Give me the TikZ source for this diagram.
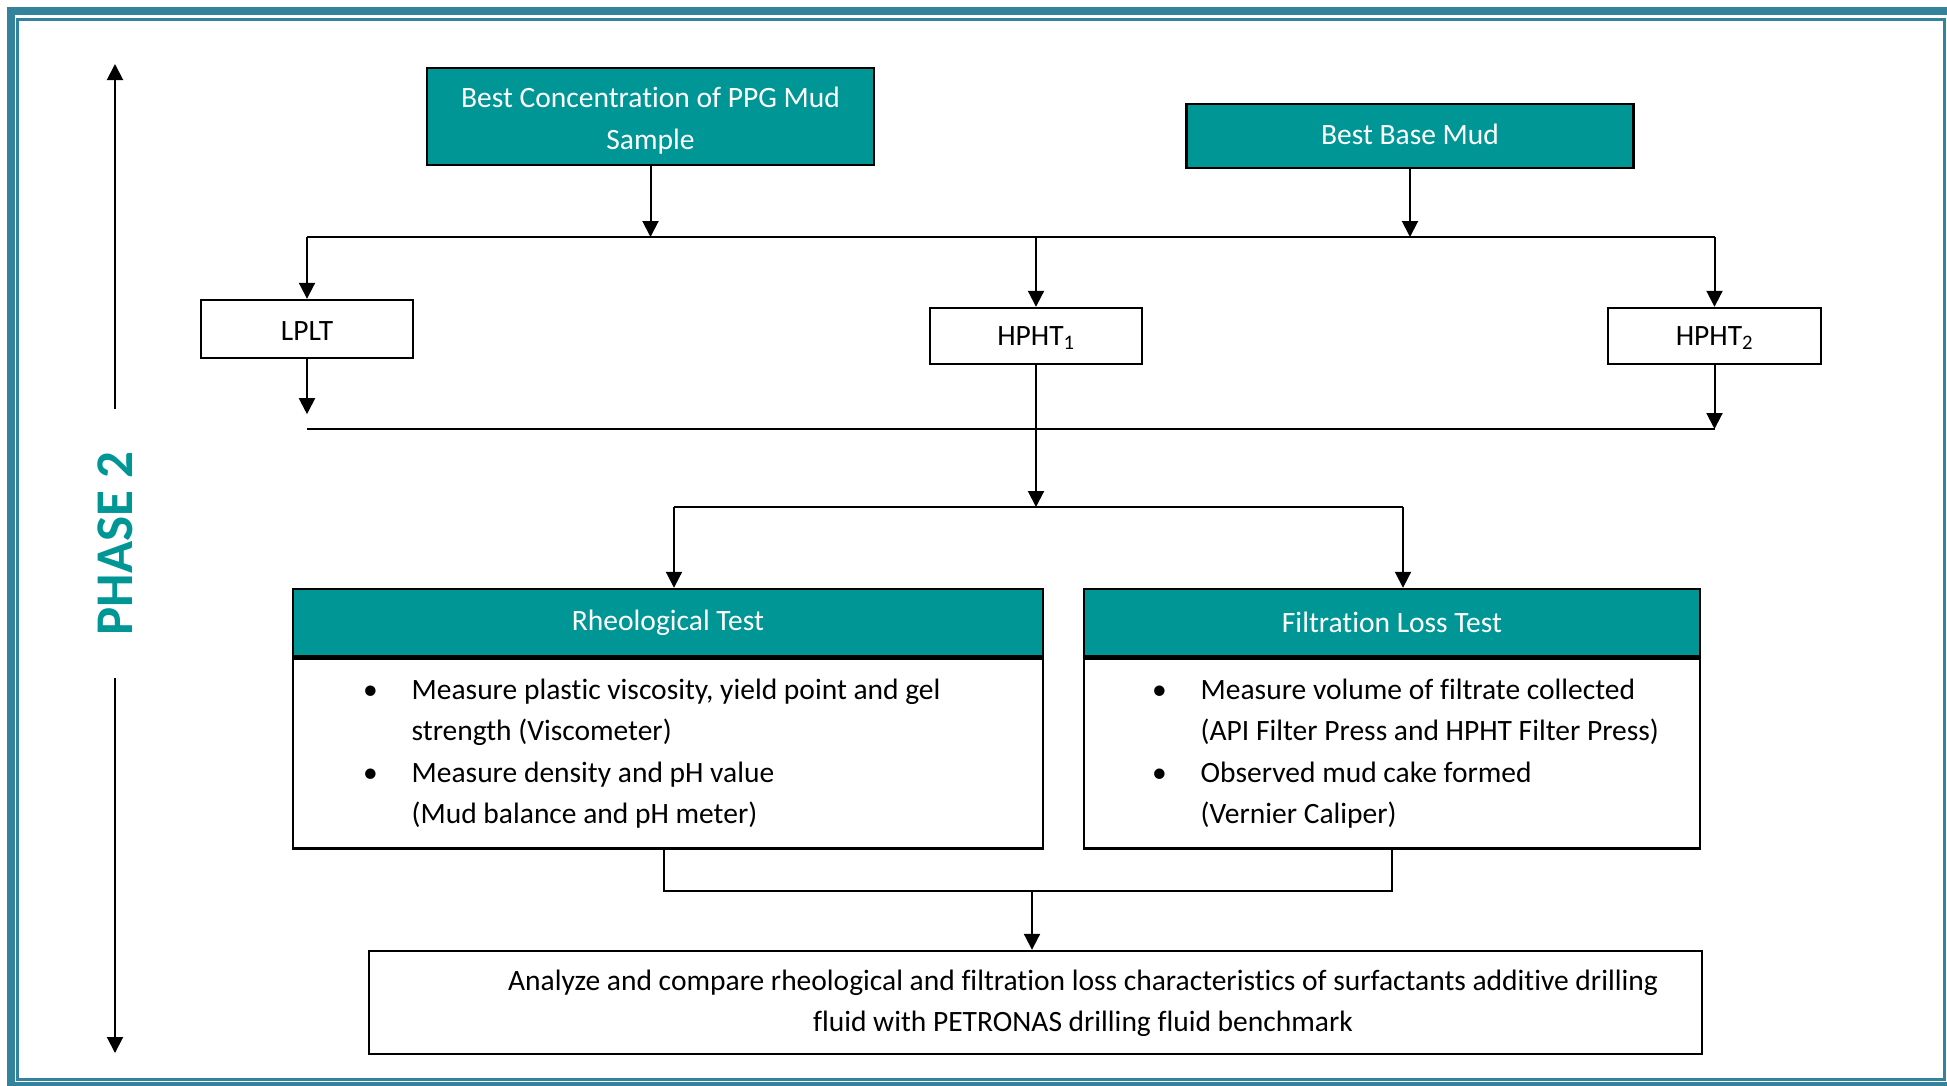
\documentclass[tikz,border=0pt]{standalone}
\usepackage{fontspec}
\setmainfont{Carlito}[Ligatures=NoCommon]
\usepackage{xcolor}
\usepackage{tikz}
\usetikzlibrary{arrows.meta}

\definecolor{phaseteal}{RGB}{0,150,150}
\definecolor{frameblue}{RGB}{50,131,155}

\begin{document}
\begin{tikzpicture}[x=1pt,y=-1pt,line width=2pt,>={Triangle[width=16pt,length=16pt]}]
\tikzstyle{hdr}=[rectangle,draw=black,line width=2.4pt,fill=phaseteal,text=white,align=center,inner sep=0pt,font=\fontsize{29.5}{42}\selectfont]
\tikzstyle{box}=[rectangle,draw=black,line width=2.4pt,fill=white,align=center,inner sep=0pt,font=\fontsize{29.5}{41}\selectfont]
\tikzstyle{txt}=[inner sep=0pt,font=\fontsize{29.5}{41.5}\selectfont]
\clip (0,0) rectangle (1947,1085);
% frame
\draw[frameblue,line width=8pt] (10.5,11) rectangle (1960,1086);
\draw[frameblue,line width=3pt] (17.5,19.5) rectangle (1944.5,1079.5);
% phase label
\node[rotate=90,text=phaseteal,font=\fontsize{53}{60}\selectfont\bfseries,minimum width=267pt,inner sep=0pt] (phase) at (115,543.5) {PHASE 2};
\coordinate (ptop) at (115,64);
\coordinate (pbot) at (115,1053);
\draw[->] (phase.east) -- (ptop);
\draw[->] (phase.west) -- (pbot);
% inputs and conditions
\node[hdr,minimum width=447pt,minimum height=97pt] (ppg) at (650.5,116.5) {};
\node[txt,text=white,align=center,font=\fontsize{29.5}{42}\selectfont] (ppgtext) at (650.5,121) {Best Concentration of PPG Mud\\Sample};
\node[hdr,minimum width=447pt,minimum height=64pt] (base) at (1410,136) {};
\node[txt,text=white] (basetext) at (1410,134) {Best Base Mud};
\node[box,minimum width=212pt,minimum height=58pt] (lplt) at (307,329) {};
\node[txt] (lplttext) at (307,331) {LPLT};
\node[box,minimum width=212pt,minimum height=56pt] (hpht1) at (1036,336) {};
\node[txt] (hpht1text) at (1036,338) {HPHT\textsubscript{1}};
\node[box,minimum width=213pt,minimum height=56pt] (hpht2) at (1714.5,336) {};
\node[txt] (hpht2text) at (1714.5,338) {HPHT\textsubscript{2}};
% tests
\node[hdr,minimum width=750pt,minimum height=67pt] (rheo) at (668,622.5) {Rheological Test};
\node[box,minimum width=750pt,minimum height=190pt,anchor=north] (rheobody) at (rheo.south) {};
\node[hdr,minimum width=616pt,minimum height=67pt] (filt) at (1392,622.5) {Filtration Loss Test};
\node[box,minimum width=616pt,minimum height=190pt,anchor=north] (filtbody) at (filt.south) {};
\node[txt,anchor=west] (rheotext) at (362,753) {\begin{tabular}{@{}l@{\hspace{34pt}}l@{}}
\textbullet & Measure plastic viscosity, yield point and gel\\
 & strength (Viscometer)\\
\textbullet & Measure density and pH value\\
 & (Mud balance and pH meter)
\end{tabular}};
\node[txt,anchor=west] (filttext) at (1151,753) {\begin{tabular}{@{}l@{\hspace{34pt}}l@{}}
\textbullet & Measure volume of filtrate collected\\
 & (API Filter Press and HPHT Filter Press)\\
\textbullet & Observed mud cake formed\\
 & (Vernier Caliper)
\end{tabular}};
% result
\node[box,minimum width=1333pt,minimum height=103pt] (final) at (1035.5,1002.5) {};
\node[txt,align=center,font=\fontsize{29.5}{41}\selectfont] (finaltext) at (1083,1003.5) {Analyze and compare rheological and filtration loss characteristics of surfactants additive drilling\\fluid with PETRONAS drilling fluid benchmark};
% connectors
\coordinate (busA) at (0,237);
\coordinate (busB) at (0,429);
\coordinate (busC) at (0,507);
\coordinate (busD) at (0,891);
\draw (lplt.north |- busA) -- (hpht2.north |- busA);
\draw[->] (ppg) -- (ppg |- busA);
\draw[->] (base) -- (base |- busA);
\draw[->] (lplt.north |- busA) -- (lplt);
\draw[->] (hpht1.north |- busA) -- (hpht1);
\draw[->] (hpht2.north |- busA) -- (hpht2);
\draw[->] (lplt.south) -- ++(0,55);
\draw (lplt.south |- busB) -- (hpht2.south |- busB);
\draw[->] (hpht2) -- (hpht2 |- busB);
\draw[->] (hpht1) -- (hpht1 |- busC);
\draw ([xshift=6pt]rheo.north |- busC) -- ([xshift=11pt]filt.north |- busC);
\draw[->] ([xshift=6pt]rheo.north |- busC) -- ([xshift=6pt]rheo.north);
\draw[->] ([xshift=11pt]filt.north |- busC) -- ([xshift=11pt]filt.north);
\draw ([xshift=-4pt]rheobody.south) -- ([xshift=-4pt]rheobody.south |- busD) -- (filtbody.south |- busD) -- (filtbody.south);
\draw[->] ([xshift=-3.5pt]final.north |- busD) -- ([xshift=-3.5pt]final.north);
\end{tikzpicture}
\end{document}
